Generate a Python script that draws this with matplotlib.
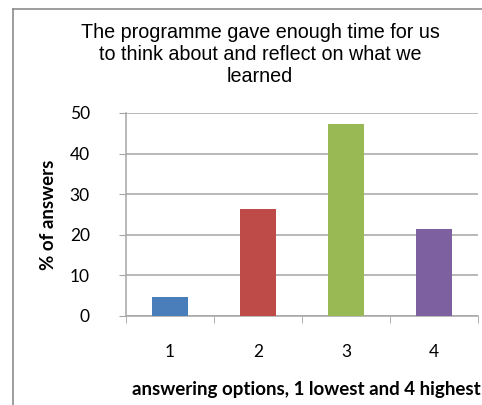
import matplotlib.pyplot as plt
from matplotlib.lines import Line2D

options = ['1', '2', '3', '4']
answers = [4.7, 26.4, 47.3, 21.4]
colors = ['#4a7ebb', '#be4b48', '#98b954', '#7d60a0']
yticks = [0, 10, 20, 30, 40, 50]

W, H = 482, 405
fig = plt.figure(figsize=(W / 100, H / 100), dpi=100)
fig.patch.set_facecolor('white')

# outer chart border (only top and left visible in the crop)
fig.add_artist(Line2D([13 / W, 13 / W], [0, 1 - 9 / H], color='#8c8c8c', lw=1.2))
fig.add_artist(Line2D([13 / W, 1], [1 - 9 / H, 1 - 9 / H], color='#8c8c8c', lw=1.2))

ax = fig.add_axes([126 / W, 1 - 316 / H, 352 / W, 203 / H])
x = range(len(options))
ax.bar(x, answers, width=0.4, color=colors, zorder=3)

ax.set_xlim(-0.5, 3.5)
ax.set_ylim(0, 50)
ax.set_yticks(yticks)
ax.set_yticklabels([str(v) for v in yticks], fontsize=12.5, family='Lato')
ax.set_xticks(list(x))
ax.set_xticklabels(options, fontsize=12.5, family='Lato')
ax.set_xticks([-0.5, 0.5, 1.5, 2.5, 3.5], minor=True)

ax.grid(axis='y', color='#a6a6a6', lw=1.1, zorder=0)
for s in ['top', 'right']:
    ax.spines[s].set_visible(False)
for s in ['left', 'bottom']:
    ax.spines[s].set_color('#a6a6a6')
    ax.spines[s].set_linewidth(1.1)

ax.tick_params(axis='y', length=5, color='#a6a6a6', pad=21)
ax.tick_params(axis='x', which='major', length=0, pad=20)
ax.tick_params(axis='x', which='minor', length=5, color='#a6a6a6')

ax.set_ylabel('% of answers', fontsize=13.5, fontweight='bold', family='Lato')
ax.yaxis.set_label_coords(-0.196, 0.5)
xl = ax.set_xlabel('answering options, 1 lowest and 4 highest', fontsize=13.5,
                   fontweight='bold', family='Lato')
xl.set_ha('left')
ax.xaxis.set_label_coords(0.017, -0.32)

fig.text(260 / W, 1 - 23 / H,
         'The programme gave enough time for us\nto think about and reflect on what we\nlearned',
         ha='center', va='top', fontsize=14.2, family='Liberation Sans', linespacing=1.2)

fig.savefig('out.png', dpi=100)
